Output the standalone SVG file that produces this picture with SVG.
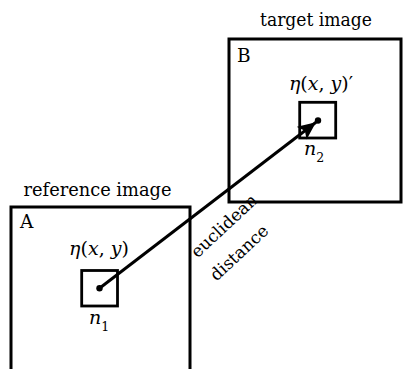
<svg xmlns="http://www.w3.org/2000/svg" width="404" height="369" viewBox="0 0 404 369">
<style>
.box{fill:none;stroke:#000;stroke-width:3}
.sbox{fill:none;stroke:#000;stroke-width:2.8}
.t{font-family:"DejaVu Serif","Liberation Serif",serif;fill:#000}
.lbl{font-size:18.5px}
.math{font-size:19px}
.it{font-style:italic}
</style>
<defs>
<marker id="ah" markerUnits="userSpaceOnUse" markerWidth="20" markerHeight="16" refX="18" refY="8" orient="auto">
<path d="M0,0 L18,8 L0,16 L4,8 Z" fill="#000"/>
</marker>
</defs>
<g id="imageA">
<rect class="box" x="11" y="207" width="179" height="170"/>
<text class="t lbl" x="97.5" y="196" text-anchor="middle" textLength="148" lengthAdjust="spacingAndGlyphs">reference image</text>
<text class="t lbl" x="20" y="228">A</text>
</g>
<g id="imageB">
<rect class="box" x="229" y="39" width="172" height="163"/>
<text class="t lbl" x="316" y="26" text-anchor="middle" textLength="112" lengthAdjust="spacingAndGlyphs">target image</text>
<text class="t lbl" x="237" y="62">B</text>
</g>
<g id="n1">
<rect class="sbox" x="81.7" y="270.5" width="35.8" height="35.5"/>
<circle cx="99.5" cy="288.3" r="3.2" fill="#000"/>
<text class="t math" x="99" y="255" text-anchor="middle"><tspan class="it">η</tspan>(<tspan class="it">x</tspan>, <tspan class="it">y</tspan>)</text>
<text class="t math" x="89" y="324" font-size="20"><tspan class="it">n</tspan><tspan font-size="12.5" dy="7">1</tspan></text>
</g>
<g id="n2">
<rect class="sbox" x="299.7" y="102.3" width="36" height="35.7"/>
<circle cx="318" cy="120.5" r="3.2" fill="#000"/>
<text class="t math" x="321" y="90" text-anchor="middle"><tspan class="it">η</tspan>(<tspan class="it">x</tspan>, <tspan class="it">y</tspan>)′</text>
<text class="t math" x="304" y="155" font-size="20"><tspan class="it">n</tspan><tspan font-size="12.5" dy="7">2</tspan></text>
</g>
<g id="connectors">
<line x1="99.5" y1="288.3" x2="316" y2="122.3" stroke="#000" stroke-width="3" marker-end="url(#ah)"/>
</g>
<g id="edge-label">
<text class="t" font-size="17" transform="translate(228,230) rotate(-43)" text-anchor="middle">euclidean</text>
<text class="t" font-size="17" transform="translate(243,257) rotate(-43)" text-anchor="middle">distance</text>
</g>
</svg>
